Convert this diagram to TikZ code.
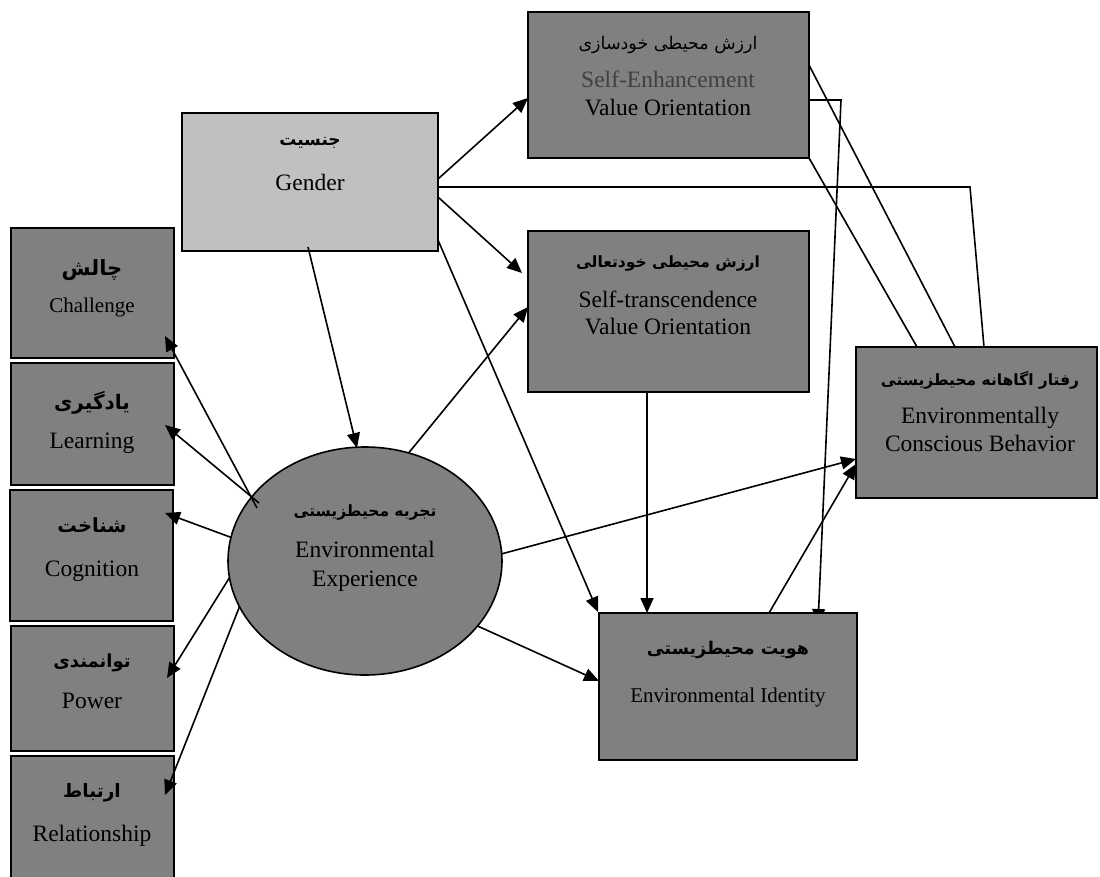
\documentclass[tikz,border=0pt]{standalone}
\usepackage{fontspec}
\setmainfont{Liberation Serif}
\newfontfamily\fa[Script=Arabic]{DejaVu Sans}
\TeXXeTstate=1
\usetikzlibrary{arrows.meta,calc,shapes.geometric}
\definecolor{boxgray}{HTML}{808080}
\definecolor{lightbox}{HTML}{C0C0C0}
\definecolor{segray}{HTML}{404040}
\pgfdeclarelayer{back}
\pgfsetlayers{back,main}
\tikzset{
  box/.style={draw=black, line width=2pt, fill=boxgray, inner sep=0pt, outer sep=0pt, anchor=north west},
  oval/.style={ellipse, draw=black, line width=1.6pt, fill=boxgray, inner sep=0pt, outer sep=0pt},
  en/.style={anchor=base, inner sep=0pt, font=\fontsize{23.5}{28}\selectfont},
  ensm/.style={anchor=base, inner sep=0pt, font=\fontsize{21}{25}\selectfont},
  fa/.style={anchor=center, inner sep=0pt, font=\fa\bfseries\fontsize{#1}{24}\selectfont},
  fa/.default=16,
  fareg/.style={anchor=center, inner sep=0pt, font=\fa\fontsize{17.5}{24}\selectfont},
  link/.style={line width=1.6pt},
  arr/.style={line width=1.6pt, -{Triangle[length=15pt,width=13pt]}},
}
\begin{document}
\begin{tikzpicture}[x=1pt,y=-1pt]
\useasboundingbox (0,0) rectangle (1100,876);
\clip (0,0) rectangle (1100,876);
% boxes
\node[box, minimum width=281pt, minimum height=146pt] (se) at (528,12) {};
\node[box, fill=lightbox, minimum width=256pt, minimum height=138pt] (gender) at (182,113) {};
\node[box, minimum width=281pt, minimum height=161pt] (st) at (528,231) {};
\node[box, minimum width=241pt, minimum height=151pt] (ecb) at (856,347) {};
\node[box, minimum width=258pt, minimum height=147pt] (ei) at (599,613) {};
\node[box, minimum width=163pt, minimum height=130pt] (ch) at (11,228) {};
\node[box, minimum width=163pt, minimum height=122pt] (le) at (11,363) {};
\node[box, minimum width=163pt, minimum height=131pt] (co) at (10,490) {};
\node[box, minimum width=163pt, minimum height=125pt] (po) at (11,626) {};
\node[box, minimum width=163pt, minimum height=124pt] (re) at (11,756) {};
\node[oval, minimum width=274pt, minimum height=228pt] (ee) at (365,561) {};
% texts
\node[fareg] (seP) at (668,45) {\beginR ارزش محیطی خودسازی\endR};
\node[en, text=segray] (se1) at (668,87) {Self-Enhancement};
\node[en] (se2) at (668,115) {Value Orientation};
\node[fa=17] (gP) at (310,143) {\beginR جنسیت\endR};
\node[en] (g1) at (310,190) {Gender};
\node[fa=15.5] (stP) at (668,263) {\beginR ارزش محیطی خودتعالی\endR};
\node[en] (st1) at (668,307) {Self-transcendence};
\node[en] (st2) at (668,334) {Value Orientation};
\node[fa=15.5] (ecbP) at (980,380) {\beginR رفتار اگاهانه محیطزیستی\endR};
\node[en] (ecb1) at (980,423) {Environmentally};
\node[en] (ecb2) at (980,451) {Conscious Behavior};
\node[fa=17.5] (eiP) at (728,650) {\beginR هویت محیطزیستی\endR};
\node[ensm] (ei1) at (728,702) {Environmental Identity};
\node[fa=15.5] (eeP) at (365,512) {\beginR تجربه محیطزیستی\endR};
\node[en] (ee1) at (365,557) {Environmental};
\node[en] (ee2) at (365,586) {Experience};
\node[fa=21] (chP) at (92,270) {\beginR چالش\endR};
\node[ensm] (ch1) at (92,312) {Challenge};
\node[fa=20] (leP) at (92,403) {\beginR یادگیری\endR};
\node[en] (le1) at (92,448) {Learning};
\node[fa=19.5] (coP) at (92,525) {\beginR شناخت\endR};
\node[en] (co1) at (92,576) {Cognition};
\node[fa=18] (poP) at (92,663) {\beginR توانمندی\endR};
\node[en] (po1) at (92,708) {Power};
\node[fa=18.5] (reP) at (92,793) {\beginR ارتباط\endR};
\node[en] (re1) at (92,841) {Relationship};
% connectors behind boxes
\begin{pgfonlayer}{back}
\draw[link] ($(gender.north east)+(0,74)$) -- ($(ecb.north west)+(114,-160)$) -- ($(ecb.north west)+(128,0)$);
\draw[link] ($(se.north east)+(0,53)$) -- ($(ecb.north west)+(99,0)$);
\draw[link] (se.south east) -- ($(ecb.north west)+(61,0)$);
\draw[arr] ($(se.north east)+(0,88)$) -- ($(se.north east)+(32,88)$) -- ($(ei.north west)+(219,11)$);
\end{pgfonlayer}
% connectors on top
\draw[arr] ($(gender.north east)+(0,66)$) -- ($(se.north west)+(0,86)$);
\draw[arr] ($(gender.north east)+(0,84)$) -- ($(st.north west)+(-6,42)$);
\draw[arr] ($(st.south west)+(119,0)$) -- ($(ei.north west)+(48,0)$);
\draw[arr] ($(gender.north east)+(0,127)$) -- ($(ei.north west)+(-1,-1)$);
\draw[arr] ($(gender.south west)+(126,-4)$) -- ($(ee.north)+(-8,1)$);
\draw[arr] (ee.68) -- ($(st.north west)+(0,76)$);
\draw[arr] (ee.-30) -- ($(ei.north west)+(0,68)$);
\draw[arr] (ee.3) -- ($(ecb.south west)+(0,-39)$);
\draw[arr] ($(ei.north west)+(170,0)$) -- ($(ecb.south west)+(0,-34)$);
\draw[arr] ($(ee.center)+(-108,-53)$) -- ($(ch.south east)+(-9,-22)$);
\draw[arr] ($(ee.center)+(-106,-58)$) -- ($(le.east)+(-9,1)$);
\draw[arr] (ee.170) -- ($(co.north east)+(-8,23)$);
\draw[arr] (ee.187) -- ($(po.north east)+(-7,52)$);
\draw[arr] (ee.200) -- ($(re.north east)+(-9,39)$);
\end{tikzpicture}
\end{document}
